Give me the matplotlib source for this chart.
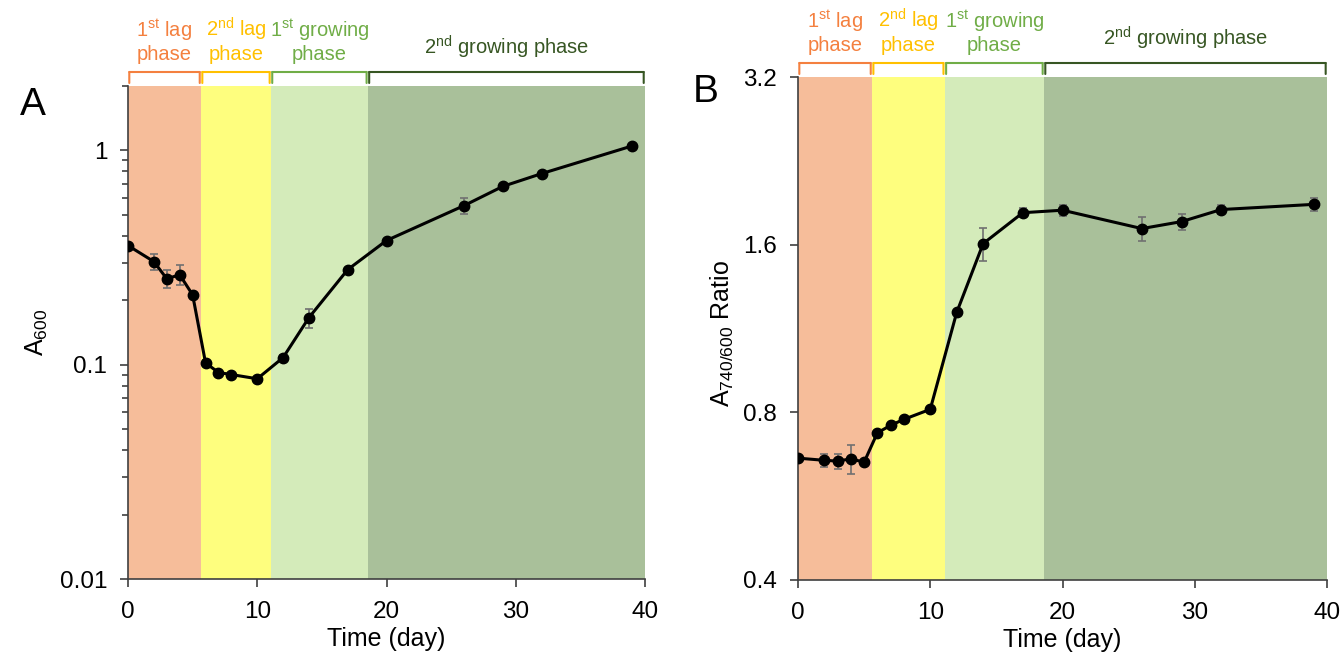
import matplotlib
matplotlib.use('Agg')
import matplotlib.pyplot as plt
import matplotlib.transforms as mtransforms
from matplotlib.ticker import FixedLocator, NullFormatter, NullLocator, FixedFormatter, LogLocator

plt.rcParams['font.family'] = ['Liberation Sans', 'DejaVu Sans']
plt.rcParams['mathtext.fontset'] = 'custom'
plt.rcParams['mathtext.rm'] = 'Liberation Sans'
plt.rcParams['mathtext.it'] = 'Liberation Sans:italic'

# ---- data ----
days = [0, 2, 3, 4, 5, 6, 7, 8, 10, 12, 14, 17, 20, 26, 29, 32, 39]
a600 = [0.36, 0.303, 0.252, 0.263, 0.212, 0.102, 0.092, 0.090, 0.086,
        0.108, 0.166, 0.278, 0.38, 0.553, 0.68, 0.78, 1.05]
a600_err = [0.008, 0.025, 0.025, 0.028, 0.006, 0.003, 0.002, 0.002, 0.002,
            0.003, 0.017, 0.006, 0.008, 0.045, 0.02, 0.015, 0.02]
ratio = [0.662, 0.656, 0.654, 0.660, 0.651, 0.735, 0.758, 0.777, 0.81,
         1.209, 1.607, 1.826, 1.845, 1.71, 1.76, 1.85, 1.89]
ratio_err = [0.006, 0.018, 0.02, 0.04, 0.006, 0.006, 0.006, 0.006, 0.008,
             0.01, 0.11, 0.035, 0.04, 0.085, 0.06, 0.035, 0.05]

# phase boundaries (day) for each panel
bounds_a = [0, 5.65, 11.06, 18.56, 40]
bounds_b = [0, 5.6, 11.1, 18.6, 40]
phase_labels = ['1$^{\\rm st}$ lag\nphase', '2$^{\\rm nd}$ lag\nphase',
                '1$^{\\rm st}$ growing\nphase', '2$^{\\rm nd}$ growing phase']
shade_colors = ['#F6BD9A', '#FEFE7E', '#D4EBBA', '#A9C09A']
text_colors = ['#F4803F', '#FFC000', '#70AD47', '#375623']

fig = plt.figure(figsize=(13.44, 6.59), dpi=100)
ax_a = fig.add_axes([128/1344, 1-579/659, 517/1344, 493/659])
ax_b = fig.add_axes([798/1344, 1-580/659, 529/1344, 503/659])


def decorate(ax, bounds):
    for i in range(4):
        ax.axvspan(bounds[i], bounds[i+1], color=shade_colors[i], lw=0, zorder=0)
    trans = mtransforms.blended_transform_factory(ax.transData, ax.transAxes)
    off_b = mtransforms.offset_copy(trans, fig=fig, y=3, units='dots')
    off_t = mtransforms.offset_copy(trans, fig=fig, y=14, units='dots')
    for i in range(4):
        x0, x1 = bounds[i] + 0.1, bounds[i+1] - 0.1
        arrow = dict(arrowstyle='-', color=text_colors[i], lw=1.5, shrinkA=0, shrinkB=0)
        # bracket: two legs and a top bar
        for xx in (x0, x1):
            ax.annotate('', xy=(xx, 1), xycoords=off_b, xytext=(xx, 1), textcoords=off_t,
                        arrowprops=arrow, annotation_clip=False)
        ax.annotate('', xy=(x0, 1), xycoords=off_t, xytext=(x1, 1), textcoords=off_t,
                    arrowprops=arrow, annotation_clip=False)
        lift = 22 if '\n' in phase_labels[i] else 25
        off_txt = mtransforms.offset_copy(trans, fig=fig, y=lift, units='dots')
        ax.text((bounds[i] + bounds[i+1]) / 2, 1, phase_labels[i], transform=off_txt,
                ha='center', va='bottom', fontsize=14.5, color=text_colors[i],
                linespacing=1.15, clip_on=False)
    for s in ('top', 'right'):
        ax.spines[s].set_visible(False)
    for s in ('left', 'bottom'):
        ax.spines[s].set_color('#404040')
        ax.spines[s].set_linewidth(1.2)
    ax.set_xlim(0, 40)
    ax.set_xticks([0, 10, 20, 30, 40])
    ax.tick_params(axis='both', which='major', direction='out', length=6, width=1.2,
                   color='#404040', labelsize=17.5)
    ax.tick_params(axis='x', which='major', pad=10)
    ax.tick_params(axis='y', which='major', pad=9)
    ax.tick_params(axis='y', which='minor', direction='out', length=4, width=1.2,
                   color='#404040')
    ax.set_xlabel('Time (day)', fontsize=18, labelpad=3)


# ---- panel A ----
decorate(ax_a, bounds_a)
ax_a.errorbar(days, a600, yerr=a600_err, color='black', lw=2.2, marker='o', ms=7.5,
              ecolor='#707070', elinewidth=1.2, capsize=3, capthick=1.2, zorder=3)
ax_a.set_yscale('log')
ax_a.set_ylim(0.01, 2.0)
ax_a.set_yticks([0.01, 0.1, 1])
ax_a.set_yticklabels(['0.01', '0.1', '1'])
ax_a.yaxis.set_minor_locator(LogLocator(base=10, subs=range(2, 10)))
ax_a.yaxis.set_minor_formatter(NullFormatter())
ax_a.set_ylabel('A$_{600}$', fontsize=18)
ax_a.yaxis.set_label_coords(-0.15, 0.5)
fig.text(33/1344, 1-105/659, 'A', fontsize=28, ha='center', va='center')

# ---- panel B ----
decorate(ax_b, bounds_b)
ax_b.errorbar(days, ratio, yerr=ratio_err, color='black', lw=2.2, marker='o', ms=7.5,
              ecolor='#707070', elinewidth=1.2, capsize=3, capthick=1.2, zorder=3)
ax_b.set_yscale('log', base=2)
ax_b.set_ylim(0.4, 3.2)
ax_b.yaxis.set_major_locator(FixedLocator([0.4, 0.8, 1.6, 3.2]))
ax_b.yaxis.set_major_formatter(FixedFormatter(['0.4', '0.8', '1.6', '3.2']))
ax_b.yaxis.set_minor_locator(NullLocator())
ax_b.set_ylabel('A$_{740/600}$ Ratio', fontsize=18)
ax_b.yaxis.set_label_coords(-0.118, 0.49)
fig.text(706/1344, 1-92/659, 'B', fontsize=28, ha='center', va='center')

fig.savefig('out.png', dpi=100)
